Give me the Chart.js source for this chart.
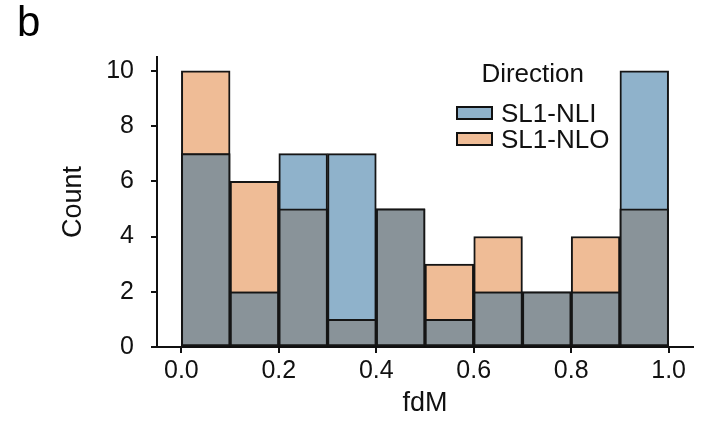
<!DOCTYPE html>
<html>
<head>
<meta charset="utf-8">
<script src="https://cdn.jsdelivr.net/npm/chart.js@4.4.0/dist/chart.umd.min.js"></script>
<style>
  body { margin: 0; background: #fff; font-family: "Liberation Sans", Arial, sans-serif; }
  #wrap { position: relative; width: 701px; height: 424px; }
  #panel { position: absolute; left: 17px; top: 1px; font-size: 42px; line-height: 1; color: #000; }
  #legend { position: absolute; left: 456px; top: 56px; font-size: 26px; color: #111; }
  #legend .ttl { text-align: center; line-height: 34px; margin-bottom: 10px; }
  #legend .row { display: flex; align-items: center; height: 26px; }
  #legend .box { width: 33px; height: 10px; border: 2px solid #111; margin-right: 8px; }
</style>
</head>
<body>
<div id="wrap">
  <canvas id="chart" width="701" height="424"></canvas>
  <div id="panel">b</div>
  <div id="legend"></div>
</div>
<script>
// histogram bins (fdM) and counts per direction
var binEdges = [0.0, 0.1, 0.2, 0.3, 0.4, 0.5, 0.6, 0.7, 0.8, 0.9, 1.0]
var countNLI = [7, 2, 7, 7, 5, 1, 2, 2, 2, 10]
var countNLO = [10, 6, 5, 1, 5, 3, 4, 2, 4, 5]
var seriesNames = ["SL1-NLI", "SL1-NLO"]
var xTicks = [0.0, 0.2, 0.4, 0.6, 0.8, 1.0]
var yTicks = [0, 2, 4, 6, 8, 10]

var colNLI = "#8fb2cb"
var colNLO = "#efbc96"
var colBoth = "#899399"

function toPoints(counts) {
  return counts.map(function (c, i) {
    return { x: (binEdges[i] + binEdges[i + 1]) / 2, y: c }
  })
}
var overlap = countNLI.map(function (c, i) { return Math.min(c, countNLO[i]) })

var barStyle = {
  borderColor: "#151515",
  borderWidth: 2,
  borderSkipped: false,
  barPercentage: 1,
  categoryPercentage: 1
}

new Chart(document.getElementById("chart"), {
  type: "bar",
  data: {
    datasets: [
      Object.assign({ label: "both", data: toPoints(overlap), backgroundColor: colBoth, order: 0 }, barStyle),
      Object.assign({ label: seriesNames[0], data: toPoints(countNLI), backgroundColor: colNLI, order: 1 }, barStyle),
      Object.assign({ label: seriesNames[1], data: toPoints(countNLO), backgroundColor: colNLO, order: 2 }, barStyle)
    ]
  },
  options: {
    responsive: false,
    animation: false,
    layout: { padding: { left: 0, right: 8, top: 57, bottom: 0 } },
    datasets: { bar: { grouped: false } },
    plugins: { legend: { display: false }, tooltip: { enabled: false } },
    scales: {
      x: {
        type: "linear",
        offset: false,
        min: -0.05,
        max: 1.05,
        afterBuildTicks: function (scale) { scale.ticks = xTicks.map(function (v) { return { value: v } }) },
        afterFit: function (scale) { scale.height = 77 },
        ticks: {
          color: "#111",
          font: { family: "Liberation Sans", size: 25 },
          padding: 3,
          maxRotation: 0,
          callback: function (v) { return Number(v).toFixed(1) }
        },
        grid: { offset: false, drawOnChartArea: false, drawTicks: true, tickLength: 6, color: "#111", lineWidth: 2 },
        border: { display: true, color: "#111", width: 2 },
        title: { display: true, text: "fdM", color: "#111", font: { family: "Liberation Sans", size: 27 }, padding: { top: 0, bottom: 4 } }
      },
      y: {
        min: 0,
        max: 10.5,
        afterBuildTicks: function (scale) { scale.ticks = yTicks.map(function (v) { return { value: v } }) },
        afterFit: function (scale) { scale.width = 157 },
        ticks: { color: "#111", font: { family: "Liberation Sans", size: 25 }, padding: 17 },
        grid: { drawOnChartArea: false, drawTicks: true, tickLength: 6, color: "#111", lineWidth: 2 },
        border: { display: true, color: "#111", width: 2 },
        title: { display: true, text: "Count", color: "#111", font: { family: "Liberation Sans", size: 27 }, padding: { top: 57, bottom: 0 } }
      }
    }
  }
})

// legend
var lg = document.getElementById("legend")
var html = '<div class="ttl">Direction</div>'
var cols = [colNLI, colNLO]
seriesNames.forEach(function (n, i) {
  html += '<div class="row"><span class="box" style="background:' + cols[i] + '"></span>' + n + '</div>'
})
lg.innerHTML = html
</script>
</body>
</html>
